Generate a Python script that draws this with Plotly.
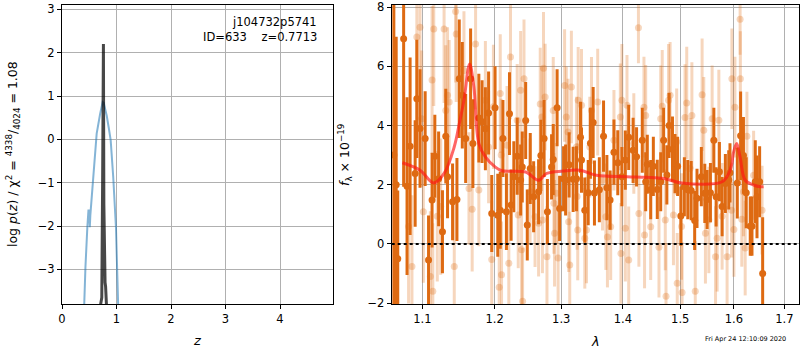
import plotly.graph_objects as go

# ---------------- left panel: p(z) ----------------
z_blue = [0.39, 0.405, 0.43, 0.465, 0.485, 0.50, 0.51, 0.52, 0.575, 0.636, 0.70, 0.746, 0.765, 0.82, 0.86, 0.893, 0.94, 0.99, 1.03, 1.05]
logp_blue = [-4.5, -3.8, -2.95, -2.03, -1.64, -1.64, -2.03, -1.75, -0.79, 0.13, 0.59, 0.86, 0.84, 0.55, 0.25, -0.02, -0.87, -2.03, -3.8, -4.5]

z_dark = [0.69, 0.71, 0.73, 0.745, 0.752, 0.760, 0.768, 0.776, 0.79, 0.80, 0.815, 0.83]
logp_dark = [-3.95, -3.75, -3.65, -1.0, 2.2, 2.2, -1.5, -3.25, -3.3, -3.4, -3.9, -4.2]

# ---------------- right panel: spectrum ----------------
lam_bin = [1.0630, 1.0660, 1.0680, 1.0756, 1.0800, 1.0840, 1.0906, 1.0928, 1.0970, 1.1038,
           1.1083, 1.1130, 1.1167, 1.1218, 1.1270, 1.1315, 1.1339, 1.1408, 1.1468, 1.1500,
           1.1542, 1.1589, 1.1658, 1.1690, 1.1774, 1.1820, 1.1867, 1.1913, 1.1958, 1.2006,
           1.2045, 1.2081, 1.2120, 1.2171, 1.2216, 1.2240, 1.2280, 1.2330, 1.2381, 1.2405,
           1.2456, 1.2480,
           1.2525, 1.2576, 1.2651, 1.2686, 1.2735, 1.2786, 1.2850, 1.2876, 1.2936, 1.2975,
           1.3037, 1.3069, 1.3124, 1.3188, 1.3241, 1.3305, 1.3321, 1.3374, 1.3429, 1.3465,
           1.3509,
           1.3530, 1.3610, 1.3679, 1.3734, 1.3787, 1.3851, 1.3915, 1.3984, 1.4042, 1.4099,
           1.4174, 1.4233, 1.4331, 1.4390, 1.4418, 1.4477, 1.4523, 1.4592, 1.4652,
           1.4704, 1.4761, 1.4801, 1.4861, 1.4906, 1.4953, 1.5011, 1.5075, 1.5137, 1.5199,
           1.5263, 1.5306, 1.5386, 1.5450, 1.5493, 1.5555, 1.5619, 1.5662, 1.5724, 1.5775,
           1.5837, 1.5901,
           1.5925, 1.6066, 1.6130, 1.6185, 1.6239, 1.6318, 1.6352, 1.6417, 1.6451, 1.6503,
           1.6563]
flux_bin = [3.0, 2.0, -0.5, 6.93, 1.95, 3.3, 2.38, 4.9, 3.9, 3.56,
            -0.54, 1.48, 2.96, 2.2, 0.41, 3.64, 2.27, 1.42, 1.5, 5.58,
            5.02, 3.56, 5.58, 3.39, 4.25, 4.13, 3.89, 4.42, 1.03, 4.6,
            0.97, 1.14, 3.56, 1.09, 4.4, 1.31, 2.27, 2.96, 2.16, 2.6,
            4.17, 0.64,
            2.55, 1.59, 1.76, 2.99, 3.56, 1.09, 2.6, 2.85, 4.6, 1.2,
            2.2, 2.16, 2.67, 2.18, 2.2, 3.6, 2.83, 1.14, 1.73, 3.4,
            4.1,
            1.72, 1.83, 3.64, 1.9, 1.48, 3.1, 2.74, 2.27, 2.83, 3.6,
            3.16, 2.94, 3.5, 2.1, 2.69, 1.83, 2.62, 1.84, 2.1,
            3.5, 2.33, 4.0, 3.2, 2.71, 2.62, 0.94, 1.93, 1.83, 1.8,
            0.79, 1.54, 2.27, 1.71, 1.5, 1.73, 3.5, 1.59, 2.44, 1.26,
            2.04, 2.16,
            2.4, 2.06, 3.65, 2.99, 1.73, 0.6, 0.6, 2.1, 1.59, 2.1,
            -1.0]
err_bin = [6.0, 5.0, 2.3, 5.0, 3.0, 3.0, 1.8, 2.0, 2.0, 1.6,
           1.5, 1.6, 1.4, 1.6, 1.4, 1.6, 1.4, 1.3, 1.4, 2.0,
           1.8, 1.5, 1.7, 1.5, 1.5, 1.4, 1.4, 1.4, 1.3, 1.4,
           1.4, 1.3, 1.3, 1.3, 1.4, 1.2, 1.2, 1.3, 1.2, 1.2,
           1.3, 1.2,
           1.2, 1.2, 1.1, 1.2, 1.3, 1.1, 1.1, 1.2, 1.3, 1.1,
           1.1, 1.2, 1.1, 1.1, 1.1, 1.2, 1.1, 1.1, 1.1, 1.2,
           1.2,
           1.1, 1.1, 1.2, 1.1, 1.0, 1.1, 1.1, 1.0, 1.0, 1.1,
           1.1, 1.0, 1.1, 1.0, 1.0, 1.0, 1.0, 1.0, 1.0,
           1.1, 1.0, 1.1, 1.1, 1.0, 1.0, 1.0, 1.0, 1.0, 1.0,
           1.0, 1.0, 1.0, 1.0, 1.0, 1.0, 1.1, 1.0, 1.0, 1.0,
           1.0, 1.0,
           1.0, 1.2, 1.5, 1.3, 1.2, 1.0, 1.0, 1.4, 1.4, 1.2,
           1.9]

lam_raw = [1.0820, 1.0864, 1.0928, 1.0970, 1.0992, 1.1014, 1.1107, 1.1130, 1.1140, 1.1153,
           1.1200, 1.1246, 1.1292, 1.1315, 1.1339, 1.1361, 1.1431, 1.1450, 1.1458,
           1.1565, 1.1635, 1.1680, 1.1728, 1.1774, 1.1867, 1.1913, 1.1958, 1.1982, 1.2066,
           1.2081, 1.2095, 1.2100, 1.2180, 1.2206, 1.2231, 1.2330, 1.2345, 1.2381, 1.2395,
           1.2410, 1.2431,
           1.2522, 1.2597, 1.2651, 1.2676, 1.2701, 1.2710, 1.2726, 1.2751, 1.2779, 1.2876,
           1.2886, 1.2896, 1.2925, 1.2951, 1.3053, 1.3080, 1.3107, 1.3117, 1.3134, 1.3160,
           1.3241, 1.3251, 1.3261, 1.3268, 1.3321, 1.3374, 1.3401, 1.3455, 1.3482,
           1.3583, 1.3662, 1.3717, 1.3743, 1.3797, 1.3851, 1.3958, 1.3968, 1.3984, 1.4042,
           1.4070, 1.4099, 1.4186, 1.4265, 1.4273, 1.4360, 1.4370, 1.4390, 1.4477, 1.4622,
           1.4652, 1.4679,
           1.4733, 1.4746, 1.4791, 1.4819, 1.4878, 1.4936, 1.4946, 1.5024, 1.5034, 1.5087,
           1.5118, 1.5180, 1.5212, 1.5274, 1.5400, 1.5431, 1.5462, 1.5525, 1.5587, 1.5651,
           1.5681, 1.5713, 1.5775, 1.5870,
           1.5956, 1.5962, 1.6000, 1.6020, 1.6120, 1.6125, 1.6153, 1.6185, 1.6219, 1.6253,
           1.6384, 1.6551]
flux_raw = [0.59, -0.76, 6.99, 7.32, 4.23, 1.09, -1.1, 5.54, -1.6, 7.26,
            0.93, 1.26, 7.26, 4.51, 5.02, 4.79, -0.76, 7.85, 7.09,
            5.86, 1.87, 1.17, 6.75, 1.82, 4.85, 3.27, -0.53, 4.63, -1.46,
            5.08, 3.0, -1.04, 3.33, -0.65, 6.31, 4.18, 0.98, 5.19, -0.2,
            -1.94, 5.58,
            1.76, 0.92, 0.7, 4.73, 4.29, 0.81, 5.93, 4.96, -0.43, 4.51,
            1.37, 0.36, 1.71, -0.48, 5.35, 4.29, 3.78, 0.75, -0.71, 5.3,
            3.27, 1.6, 0.47, 4.85, 4.68, 0.19, 0.47, 3.27, 4.51,
            4.79, 2.15, 0.92, 0.23, 0.58, 3.5, 4.29, -0.32, 4.85, 0.53,
            4.68, -0.54, 3.39, 7.3, 1.03, 4.62, 0.3, 4.34, 0.58, -0.11,
            4.23, 4.65,
            0.81, -1.77, 4.85, 5.02, 0.98, 3.45, -1.33, 0.59, -1.64, 4.27,
            4.76, 2.55, 4.34, -1.6, 5.04, 3.84, 0.36, 0.81, 4.23, -0.43,
            0.19, 4.18, 0.93, -0.43,
            1.14, 5.58, 0.49, 4.62, 7.59, 5.58, 0.83, 1.76, -0.14, 3.64,
            2.32, 1.14]
err_raw = [2.6, 2.4, 2.8, 2.5, 2.3, 2.4, 2.2, 2.5, 2.3, 2.6,
           2.2, 2.3, 2.5, 2.2, 2.3, 2.1, 2.2, 2.4, 2.3,
           2.0, 1.9, 2.1, 2.2, 1.9, 2.0, 1.9, 2.0, 2.1, 1.9,
           2.0, 1.9, 1.8, 2.0, 1.9, 2.1, 1.9, 1.8, 2.0, 1.9,
           1.8, 2.0,
           1.8, 1.7, 1.8, 1.9, 1.7, 1.8, 1.9, 1.8, 1.7, 1.8,
           1.7, 1.8, 1.7, 1.8, 1.9, 1.7, 1.8, 1.7, 1.8, 1.9,
           1.7, 1.8, 1.7, 1.8, 1.9, 1.7, 1.8, 1.7, 1.8,
           1.8, 1.7, 1.8, 1.7, 1.8, 1.7, 1.8, 1.7, 1.9, 1.8,
           1.7, 1.8, 1.7, 1.2, 1.8, 1.7, 1.8, 1.7, 1.8, 1.7,
           1.8, 1.9,
           1.7, 1.8, 1.9, 1.8, 1.7, 1.8, 1.7, 1.8, 1.7, 1.8,
           1.9, 1.7, 1.8, 1.7, 1.9, 1.8, 1.7, 1.8, 1.8, 1.7,
           1.8, 1.7, 1.8, 1.7,
           1.6, 1.7, 1.6, 1.7, 1.2, 1.6, 1.6, 1.5, 1.6, 1.5,
           1.5, 1.5]

lam_model = [1.074, 1.097, 1.1153, 1.1292, 1.1431, 1.150, 1.1565, 1.1644, 1.1704, 1.1774,
             1.1867, 1.2006, 1.2105, 1.2456, 1.2651, 1.2775, 1.3027, 1.3294, 1.3562, 1.407,
             1.440, 1.4709, 1.5024, 1.5775, 1.5901, 1.5963, 1.5987, 1.6054, 1.6119, 1.6219,
             1.6384, 1.6517, 1.6582]
flux_model = [2.74, 2.49, 2.06, 2.38, 3.28, 4.06, 4.85, 6.08, 5.3, 3.39,
              2.94, 2.6, 2.47, 2.43, 2.15, 2.38, 2.46, 2.49, 2.32, 2.27,
              2.25, 2.21, 2.06, 2.1, 2.38, 2.72, 3.05, 3.39, 2.94, 2.15,
              1.99, 1.93, 1.93]

title_lines = ["j104732p5741", "ID=633\u00a0\u00a0\u00a0\u00a0z=0.7713"]
stamp = "Fri Apr 24 12:10:09 2020"

ORANGE = "rgb(222,106,18)"
ORANGE_L = "rgba(222,106,18,0.28)"
FONT = "DejaVu Sans"

fig = go.Figure()

fig.add_trace(go.Scatter(x=z_blue, y=logp_blue, mode="lines",
                         line=dict(color="rgba(31,119,180,0.55)", width=2),
                         xaxis="x", yaxis="y", hoverinfo="skip"))
fig.add_trace(go.Scatter(x=z_dark, y=logp_dark, mode="lines",
                         line=dict(color="rgba(0,0,0,0.72)", width=3),
                         xaxis="x", yaxis="y", hoverinfo="skip"))

fig.add_trace(go.Scatter(x=lam_raw, y=flux_raw, mode="markers",
                         marker=dict(size=7, color=ORANGE_L, line=dict(width=0)),
                         error_y=dict(type="data", array=err_raw, color=ORANGE_L,
                                      thickness=3, width=0),
                         xaxis="x2", yaxis="y2", hoverinfo="skip"))
fig.add_trace(go.Scatter(x=lam_bin, y=flux_bin, mode="markers",
                         marker=dict(size=7, color=ORANGE, line=dict(width=0)),
                         error_y=dict(type="data", array=err_bin, color=ORANGE,
                                      thickness=3, width=0),
                         xaxis="x2", yaxis="y2", hoverinfo="skip"))
fig.add_trace(go.Scatter(x=lam_model, y=flux_model, mode="lines",
                         line=dict(color="rgba(255,20,20,0.65)", width=3, shape="spline"),
                         xaxis="x2", yaxis="y2", hoverinfo="skip"))

axis_common = dict(showgrid=True, gridcolor="#b0b0b0", gridwidth=1,
                   showline=True, linecolor="black", linewidth=1, mirror=True,
                   ticks="outside", ticklen=4, tickwidth=1, tickcolor="black",
                   zeroline=False, automargin=False,
                   tickfont=dict(family=FONT, size=11.5, color="black"))

ydom = [1 - 304 / 350, 1 - 5 / 350]

fig.update_layout(
    width=800, height=350, autosize=False,
    margin=dict(l=0, r=0, t=0, b=0, pad=0, autoexpand=False),
    paper_bgcolor="white", plot_bgcolor="white",
    showlegend=False,
    font=dict(family=FONT, size=12, color="black"),
    xaxis=dict(domain=[62 / 800, 333 / 800], range=[0, 4.972],
               tickvals=[0, 1, 2, 3, 4], anchor="y", **axis_common),
    yaxis=dict(domain=ydom, range=[-3.80, 3.10],
               tickvals=[-3, -2, -1, 0, 1, 2, 3], anchor="x", **axis_common),
    xaxis2=dict(domain=[391.7 / 800, 799 / 800], type="log",
                range=[0.025414, 0.238125],
                tickvals=[1.1, 1.2, 1.3, 1.4, 1.5, 1.6, 1.7],
                ticktext=["1.1", "1.2", "1.3", "1.4", "1.5", "1.6", "1.7"],
                anchor="y2", **axis_common),
    yaxis2=dict(domain=ydom, range=[-2.03, 8.07],
                tickvals=[-2, 0, 2, 4, 6, 8], anchor="x2", **axis_common),
)

fig.add_shape(type="line", xref="x2 domain", x0=0, x1=1, yref="y2", y0=0, y1=0,
              line=dict(color="black", width=2, dash="dot"), layer="above")

ann = [
    dict(text=title_lines[0], x=319 / 800, y=1 - 21.7 / 350),
    dict(text=title_lines[1], x=319 / 800, y=1 - 36.5 / 350),
]
for a in ann:
    fig.add_annotation(xref="paper", yref="paper", x=a["x"], y=a["y"], text=a["text"],
                       showarrow=False, xanchor="right", yanchor="middle",
                       font=dict(family=FONT, size=11.5, color="black"))

fig.add_annotation(xref="paper", yref="paper", x=13 / 800, y=1 - 154 / 350,
                   text="log <i>p</i>(<i>z</i>) / χ<sup>2</sup> = <sup>4338</sup>/<sub>4024</sub> = 1.08",
                   textangle=-90, showarrow=False, xanchor="center", yanchor="middle",
                   font=dict(family=FONT, size=12.5, color="black"))
fig.add_annotation(xref="paper", yref="paper", x=345 / 800, y=1 - 155 / 350,
                   text="<i>f</i><sub>λ</sub> × 10<sup>−19</sup>",
                   textangle=-90, showarrow=False, xanchor="center", yanchor="middle",
                   font=dict(family=FONT, size=12.5, color="black"))
fig.add_annotation(xref="paper", yref="paper", x=197 / 800, y=1 - 340 / 350,
                   text="<i>z</i>", showarrow=False, xanchor="center", yanchor="middle",
                   font=dict(family=FONT, size=13, color="black"))
fig.add_annotation(xref="paper", yref="paper", x=595 / 800, y=1 - 341 / 350,
                   text="<i>λ</i>", showarrow=False, xanchor="center", yanchor="middle",
                   font=dict(family=FONT, size=13, color="black"))
fig.add_annotation(xref="paper", yref="paper", x=788 / 800, y=1 - 339.3 / 350,
                   text=stamp, showarrow=False, xanchor="right", yanchor="middle",
                   font=dict(family=FONT, size=6.5, color="black"))

fig.write_html("out.html", config=dict(displayModeBar=False),
               post_script="document.body.style.margin='0';document.body.style.overflow='hidden';")
